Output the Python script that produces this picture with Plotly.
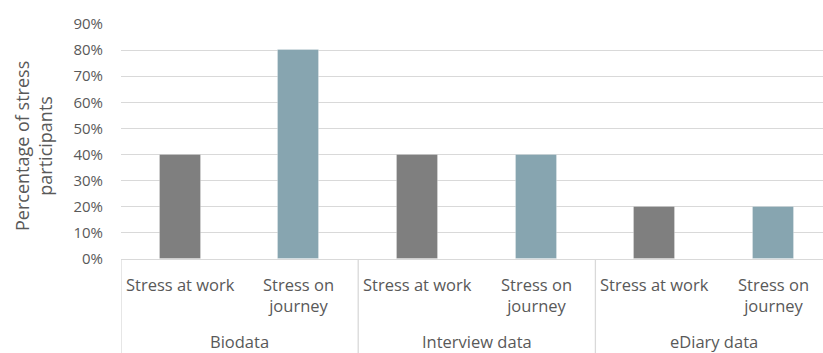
import plotly.graph_objects as go

# Chart data
groups = ["Biodata", "Interview data", "eDiary data"]
subcategories = ["Stress at work", "Stress on<br>journey"]
values = [0.40, 0.80, 0.40, 0.40, 0.20, 0.20]
bar_colors = ["#7f7f7f", "#87a5b0"]
y_ticks = [0.0, 0.1, 0.2, 0.3, 0.4, 0.5, 0.6, 0.7, 0.8, 0.9]
y_title = "Percentage of stress<br>participants"

W, H = 823, 353
ML, MT, MB = 121, 24, 94
plot_h = H - MT - MB
unit_px = 118.6  # pixels per category slot
x_max = -0.5 + (W - ML) / unit_px

text_col = "#595959"
grid_col = "#d9d9d9"
font_family = "'Open Sans', Lato, sans-serif"

n_sub = len(subcategories)
xs = list(range(len(values)))
colors = [bar_colors[i % n_sub] for i in xs]

fig = go.Figure()
fig.add_trace(go.Bar(
    x=xs, y=values, width=0.345,
    marker=dict(color=colors, line=dict(color="rgba(255,255,255,0.25)", width=1)),
    hoverinfo="skip", showlegend=False,
))

def py(px):
    """Pixel row (from top) to paper y coordinate."""
    return (H - MB - px) / plot_h

annotations = []
shapes = []
# Category labels under each bar
for i in xs:
    sub = subcategories[i % n_sub]
    annotations.append(dict(
        x=i, xref="x", y=py(271), yref="paper", yanchor="top",
        text=sub, showarrow=False,
        font=dict(size=16.5, color=text_col, family=font_family),
        align="center",
    ))
# Group labels and separators
for g, name in enumerate(groups):
    center = g * n_sub + (n_sub - 1) / 2
    annotations.append(dict(
        x=center, xref="x", y=py(341), yref="paper", yanchor="middle",
        text=name, showarrow=False,
        font=dict(size=16.5, color=text_col, family=font_family),
    ))
for k in range(len(groups) + 1):
    xb = k * n_sub - 0.5
    shapes.append(dict(
        type="line", xref="x", yref="paper",
        x0=xb, x1=xb, y0=0, y1=py(H + 5),
        line=dict(color=grid_col, width=1.3),
    ))
# Y axis title
annotations.append(dict(
    x=(33 - ML) / (W - ML), xref="paper", y=py(146), yref="paper",
    text=y_title, textangle=-90, showarrow=False,
    font=dict(size=18, color=text_col, family=font_family),
    xanchor="center", yanchor="middle", align="center",
))

fig.update_layout(
    width=W, height=H,
    margin=dict(l=ML, r=0, t=MT, b=MB, pad=0),
    plot_bgcolor="white", paper_bgcolor="white",
    xaxis=dict(range=[-0.5, x_max], showticklabels=False, showgrid=False,
               zeroline=False, showline=False, fixedrange=True),
    yaxis=dict(range=[0, 0.9], tickvals=y_ticks, tickformat=".0%",
               showgrid=True, gridcolor=grid_col, gridwidth=1.3,
               zeroline=True, zerolinecolor=grid_col, zerolinewidth=1.3,
               tickfont=dict(size=15, color=text_col, family=font_family),
               ticklabelstandoff=17, showline=False),
    annotations=annotations,
    shapes=shapes,
    bargap=0,
)

fig.write_html("out.html")
